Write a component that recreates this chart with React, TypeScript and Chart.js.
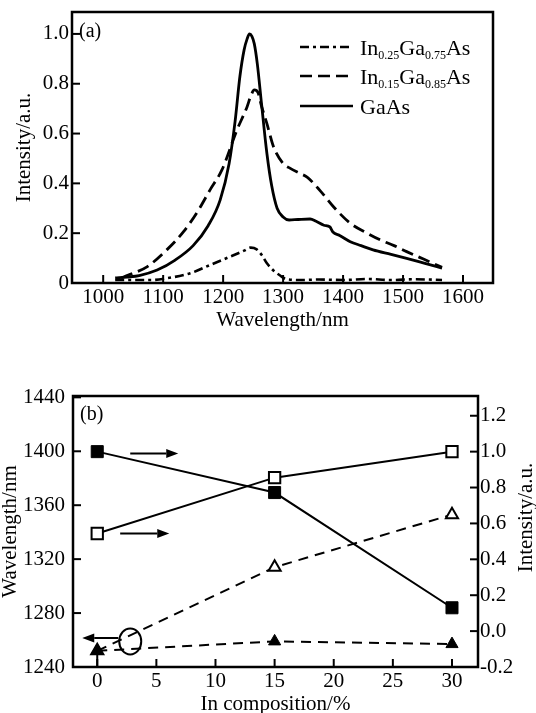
import React, { useEffect, useRef } from 'react';
import { Chart, registerables } from 'chart.js';
Chart.register(...registerables);

const FONT = '"Liberation Serif", "Times New Roman", serif';

// ---------- Panel (a) data ----------
const A_X_TICKS = [1000, 1100, 1200, 1300, 1400, 1500, 1600];
const A_X_TICK_LABELS = ['1000', '1100', '1200', '1300', '1400', '1500', '1600'];
const A_Y_TICKS = [0, 0.2, 0.4, 0.6, 0.8, 1.0];
const A_Y_TICK_LABELS = ['0', '0.2', '0.4', '0.6', '0.8', '1.0'];

const GAAS_WL = [1020, 1040, 1060, 1090, 1120, 1150, 1175, 1195, 1210, 1220, 1228, 1235, 1240, 1244, 1248, 1252, 1257, 1264, 1273, 1281, 1290, 1300, 1310, 1325, 1345, 1355, 1368, 1378, 1383, 1395, 1412, 1430, 1450, 1480, 1506, 1535, 1565];
const GAAS_I = [0.02, 0.024, 0.03, 0.052, 0.092, 0.15, 0.23, 0.333, 0.48, 0.65, 0.83, 0.936, 0.98, 1.0, 0.99, 0.96, 0.88, 0.72, 0.52, 0.39, 0.3, 0.265, 0.253, 0.255, 0.257, 0.248, 0.232, 0.225, 0.205, 0.19, 0.166, 0.15, 0.133, 0.115, 0.099, 0.08, 0.06];

const IN15_WL = [1030, 1042, 1073, 1106, 1134, 1159, 1178, 1198, 1223, 1240, 1246, 1252, 1258, 1264, 1273, 1284, 1300, 1312, 1328, 1340, 1362, 1384, 1412, 1440, 1462, 1485, 1506, 1535, 1565];
const IN15_I = [0.02, 0.032, 0.065, 0.133, 0.206, 0.293, 0.373, 0.454, 0.614, 0.708, 0.75, 0.775, 0.765, 0.71, 0.64, 0.547, 0.48, 0.46, 0.44, 0.425, 0.37, 0.306, 0.24, 0.2, 0.173, 0.15, 0.126, 0.095, 0.063];

const IN25_WL = [1020, 1056, 1080, 1106, 1145, 1178, 1212, 1235, 1246, 1256, 1265, 1273, 1284, 1295, 1306, 1330, 1360, 1400, 1440, 1480, 1520, 1565];
const IN25_I = [0.012, 0.012, 0.012, 0.019, 0.039, 0.072, 0.106, 0.13, 0.142, 0.135, 0.11, 0.079, 0.05, 0.03, 0.015, 0.012, 0.014, 0.012, 0.016, 0.012, 0.015, 0.012];

const A_LEGEND: [string, boolean][][] = [
  [['In', false], ['0.25', true], ['Ga', false], ['0.75', true], ['As', false]],
  [['In', false], ['0.15', true], ['Ga', false], ['0.85', true], ['As', false]],
  [['GaAs', false]],
];

// ---------- Panel (b) data ----------
const B_X_TICKS = [0, 5, 10, 15, 20, 25, 30];
const B_X_TICK_LABELS = ['0', '5', '10', '15', '20', '25', '30'];
const B_YL_TICKS = [1240, 1280, 1320, 1360, 1400, 1440];
const B_YL_TICK_LABELS = ['1240', '1280', '1320', '1360', '1400', '1440'];
const B_YR_TICKS = [-0.2, 0, 0.2, 0.4, 0.6, 0.8, 1.0, 1.2];
const B_YR_TICK_LABELS = ['-0.2', '0.0', '0.2', '0.4', '0.6', '0.8', '1.0', '1.2'];

const COMPOSITION = [0, 15, 30];
const WL_FILLED_TRI = [1252, 1259, 1257];
const WL_OPEN_TRI = [1252, 1314, 1353];
const INT_FILLED_SQ = [1.0, 0.772, 0.13];
const INT_OPEN_SQ = [0.544, 0.855, 1.0];

// annotations in data coordinates
const B_ARROWS = [
  { x1: 2.79, x2: 6.85, y: 0.989, axis: 'y1' },
  { x1: 1.94, x2: 6.09, y: 0.544, axis: 'y1' },
  { x1: 1.78, x2: -1.27, y: 1261.5, axis: 'y' },
];
const B_ELLIPSE = { x: 2.79, y: 1259, axis: 'y' };

const zip = (xs: number[], ys: number[]) => xs.map((x, i) => ({ x, y: ys[i] }));

const fixV = (w: number) => (s: any) => {
  s.width = w;
  s.paddingTop = 0; s.paddingBottom = 0; s.paddingLeft = 0; s.paddingRight = 0;
};
const fixH = (h: number) => (s: any) => {
  s.height = h;
  s.paddingTop = 0; s.paddingBottom = 0; s.paddingLeft = 0; s.paddingRight = 0;
};
const setTicks = (vals: number[]) => (s: any) => {
  s.ticks = vals.map((v) => ({ value: v }));
};

const TICK_LEN = 8;
const framePlugin = {
  id: 'frameTicks',
  afterDatasetsDraw(chart: any) {
    const { ctx, chartArea: a } = chart;
    ctx.save();
    ctx.strokeStyle = '#000';
    ctx.lineWidth = 2;
    for (const id of Object.keys(chart.scales)) {
      const s = chart.scales[id];
      for (const t of s.ticks) {
        const p = s.getPixelForValue(t.value);
        ctx.beginPath();
        if (s.position === 'bottom') { ctx.moveTo(p, a.bottom); ctx.lineTo(p, a.bottom - TICK_LEN); }
        else if (s.position === 'left') { ctx.moveTo(a.left, p); ctx.lineTo(a.left + TICK_LEN, p); }
        else if (s.position === 'right') { ctx.moveTo(a.right, p); ctx.lineTo(a.right - TICK_LEN, p); }
        ctx.stroke();
      }
    }
    ctx.lineWidth = 2.5;
    ctx.strokeRect(a.left, a.top, a.right - a.left, a.bottom - a.top);
    ctx.restore();
  },
};

function drawParts(ctx: CanvasRenderingContext2D, x: number, y: number, parts: [string, boolean][]) {
  for (const [t, sub] of parts) {
    ctx.font = sub ? `12px ${FONT}` : `22px ${FONT}`;
    ctx.fillText(t, x, sub ? y + 4 : y);
    x += ctx.measureText(t).width;
  }
}

const LEGEND_DASHES = [[9, 4, 3, 4], [12, 6], []];
const legendPluginA = {
  id: 'legendA',
  afterDraw(chart: any) {
    const { ctx } = chart;
    ctx.save();
    ctx.fillStyle = '#000';
    ctx.strokeStyle = '#000';
    const ys = [47, 76, 106];
    A_LEGEND.forEach((parts, i) => {
      ctx.lineWidth = 2.5;
      ctx.setLineDash(LEGEND_DASHES[i]);
      ctx.beginPath();
      ctx.moveTo(300, ys[i]);
      ctx.lineTo(353, ys[i]);
      ctx.stroke();
      ctx.setLineDash([]);
      ctx.textBaseline = 'alphabetic';
      ctx.textAlign = 'left';
      drawParts(ctx, 360, ys[i] + 8, parts);
    });
    ctx.font = `20px ${FONT}`;
    ctx.textBaseline = 'middle';
    ctx.fillText('(a)', 79, 32);
    ctx.restore();
  },
};

function arrow(ctx: CanvasRenderingContext2D, x1: number, y1: number, x2: number, y2: number) {
  const ang = Math.atan2(y2 - y1, x2 - x1);
  const L = 12, W = 4.5;
  const bx = x2 - L * Math.cos(ang), by = y2 - L * Math.sin(ang);
  ctx.beginPath();
  ctx.moveTo(x1, y1);
  ctx.lineTo(bx, by);
  ctx.stroke();
  ctx.beginPath();
  ctx.moveTo(x2, y2);
  ctx.lineTo(bx + W * Math.sin(ang), by - W * Math.cos(ang));
  ctx.lineTo(bx - W * Math.sin(ang), by + W * Math.cos(ang));
  ctx.closePath();
  ctx.fill();
}

const annotPluginB = {
  id: 'annotB',
  afterDraw(chart: any) {
    const { ctx, chartArea: a } = chart;
    const xs = chart.scales.x;
    ctx.save();
    ctx.strokeStyle = '#000';
    ctx.fillStyle = '#000';
    ctx.lineWidth = 2;
    for (const ar of B_ARROWS) {
      const ys = chart.scales[ar.axis];
      const py = ys.getPixelForValue(ar.y);
      arrow(ctx, xs.getPixelForValue(ar.x1), py, xs.getPixelForValue(ar.x2), py);
    }
    // up arrow stem under the first filled triangle
    const sx = xs.getPixelForValue(COMPOSITION[0]);
    const ty = chart.scales.y.getPixelForValue(WL_FILLED_TRI[0]);
    ctx.beginPath();
    ctx.moveTo(sx, a.bottom);
    ctx.lineTo(sx, ty);
    ctx.stroke();
    // ellipse
    const ey = chart.scales[B_ELLIPSE.axis];
    ctx.beginPath();
    ctx.ellipse(xs.getPixelForValue(B_ELLIPSE.x), ey.getPixelForValue(B_ELLIPSE.y), 11, 13, 0, 0, Math.PI * 2);
    ctx.stroke();
    // labels
    ctx.font = `20px ${FONT}`;
    ctx.textBaseline = 'middle';
    ctx.textAlign = 'left';
    ctx.fillText('(b)', 80, 70);
    ctx.font = `21px ${FONT}`;
    ctx.textAlign = 'center';
    ctx.translate(526, (a.top + a.bottom) / 2 - 14);
    ctx.rotate(-Math.PI / 2);
    ctx.fillText('Intensity/a.u.', 0, 0);
    ctx.restore();
  },
};

const tickFont = { family: FONT, size: 21 };
const titleFont = { family: FONT, size: 21 };

export default function App() {
  const ref1 = useRef<HTMLCanvasElement>(null);
  const ref2 = useRef<HTMLCanvasElement>(null);

  useEffect(() => {
    Chart.defaults.font.family = FONT;
    Chart.defaults.color = '#000';
    const c1 = new Chart(ref1.current!, {
      type: 'line',
      data: {
        datasets: [
          { label: 'In0.25Ga0.75As', data: zip(IN25_WL, IN25_I), borderColor: '#000', borderWidth: 2.6, borderDash: [9, 4, 3, 4], pointRadius: 0, cubicInterpolationMode: 'monotone', fill: false },
          { label: 'In0.15Ga0.85As', data: zip(IN15_WL, IN15_I), borderColor: '#000', borderWidth: 2.8, borderDash: [12, 6], pointRadius: 0, cubicInterpolationMode: 'monotone', fill: false },
          { label: 'GaAs', data: zip(GAAS_WL, GAAS_I), borderColor: '#000', borderWidth: 2.8, pointRadius: 0, cubicInterpolationMode: 'monotone', fill: false },
        ],
      },
      options: {
        responsive: false,
        animation: false,
        events: [],
        layout: { padding: { top: 12, right: 43, left: 0, bottom: 0 } },
        plugins: { legend: { display: false }, tooltip: { enabled: false } },
        scales: {
          x: {
            type: 'linear', position: 'bottom', min: 948, max: 1650,
            afterBuildTicks: setTicks(A_X_TICKS), afterFit: fixH(62),
            grid: { display: false, drawTicks: false }, border: { display: false },
            ticks: { font: tickFont, color: '#000', padding: 2, autoSkip: false, maxRotation: 0, callback: (_v: any, i: number) => A_X_TICK_LABELS[i] },
            title: { display: true, text: 'Wavelength/nm', font: titleFont, color: '#000', padding: { top: 0, bottom: 12 } },
          },
          y: {
            type: 'linear', position: 'left', min: 0, max: 1.088,
            afterBuildTicks: setTicks(A_Y_TICKS), afterFit: fixV(72),
            grid: { display: false, drawTicks: false }, border: { display: false },
            ticks: { font: tickFont, color: '#000', padding: 3, autoSkip: false, callback: (_v: any, i: number) => A_Y_TICK_LABELS[i] },
            title: { display: true, text: 'Intensity/a.u.', font: titleFont, color: '#000', padding: { top: 12, bottom: 0 } },
          },
        },
      },
      plugins: [framePlugin, legendPluginA],
    } as any);

    const c2 = new Chart(ref2.current!, {
      type: 'line',
      data: {
        datasets: [
          { label: 'filled square', data: zip(COMPOSITION, INT_FILLED_SQ), yAxisID: 'y1', borderColor: '#000', borderWidth: 2, pointStyle: 'rect', pointRadius: 8.5, pointBackgroundColor: '#000', pointBorderColor: '#000', pointBorderWidth: 1, fill: false },
          { label: 'open square', data: zip(COMPOSITION, INT_OPEN_SQ), yAxisID: 'y1', borderColor: '#000', borderWidth: 2, pointStyle: 'rect', pointRadius: 8, pointBackgroundColor: '#fff', pointBorderColor: '#000', pointBorderWidth: 2, fill: false },
          { label: 'filled triangle', data: zip(COMPOSITION, WL_FILLED_TRI), yAxisID: 'y', borderColor: '#000', borderWidth: 2, borderDash: [10, 7], pointStyle: 'triangle', pointRadius: 7, pointBackgroundColor: '#000', pointBorderColor: '#000', pointBorderWidth: 1, fill: false },
          { label: 'open triangle', data: zip(COMPOSITION, WL_OPEN_TRI), yAxisID: 'y', borderColor: '#000', borderWidth: 2, borderDash: [10, 7], pointStyle: 'triangle', pointRadius: 7, pointBackgroundColor: '#fff', pointBorderColor: '#000', pointBorderWidth: 2, fill: false },
        ],
      },
      options: {
        responsive: false,
        animation: false,
        events: [],
        layout: { padding: { top: 51, right: 0, left: 0, bottom: 0 } },
        plugins: { legend: { display: false }, tooltip: { enabled: false } },
        scales: {
          x: {
            type: 'linear', position: 'bottom', min: -2.05, max: 32.2,
            afterBuildTicks: setTicks(B_X_TICKS), afterFit: fixH(46),
            grid: { display: false, drawTicks: false }, border: { display: false },
            ticks: { font: tickFont, color: '#000', padding: 1.5, autoSkip: false, maxRotation: 0, callback: (_v: any, i: number) => B_X_TICK_LABELS[i] },
            title: { display: true, text: 'In composition/%', font: titleFont, color: '#000', padding: { top: 0, bottom: -4.5 } },
          },
          y: {
            type: 'linear', position: 'left', min: 1240, max: 1441,
            afterBuildTicks: setTicks(B_YL_TICKS), afterFit: fixV(73),
            grid: { display: false, drawTicks: false }, border: { display: false },
            ticks: { font: tickFont, color: '#000', padding: 8, autoSkip: false, callback: (_v: any, i: number) => B_YL_TICK_LABELS[i] },
            title: { display: true, text: 'Wavelength/nm', font: titleFont, color: '#000', padding: { top: -2.5, bottom: 0 } },
          },
          y1: {
            type: 'linear', position: 'right', min: -0.2, max: 1.31,
            afterBuildTicks: setTicks(B_YR_TICKS), afterFit: fixV(58),
            grid: { display: false, drawTicks: false }, border: { display: false },
            ticks: { font: tickFont, color: '#000', padding: 2, autoSkip: false, callback: (_v: any, i: number) => B_YR_TICK_LABELS[i] },
          },
        },
      },
      plugins: [framePlugin, annotPluginB],
    } as any);

    return () => {
      c1.destroy();
      c2.destroy();
    };
  }, []);

  return (
    <div style={{ position: 'fixed', left: 0, top: 0, width: 536, height: 713, background: '#fff', overflow: 'hidden' }}>
      <canvas ref={ref1} width={536} height={345} style={{ position: 'absolute', left: 0, top: 0 }} />
      <canvas ref={ref2} width={536} height={368} style={{ position: 'absolute', left: 0, top: 345 }} />
    </div>
  );
}
